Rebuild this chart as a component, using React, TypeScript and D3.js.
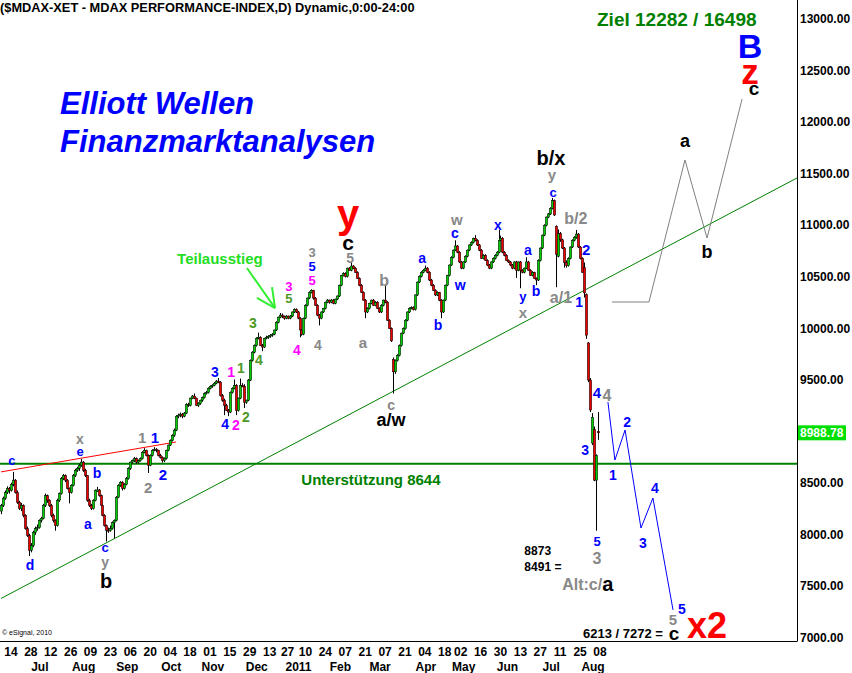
import React from 'react';
import * as d3 from 'd3';

type Bar = [number, number, number, number]; // open, high, low, close

const ohlc: Bar[] = [
  [8230,8300,8200,8285],[8285,8370,8270,8355],[8355,8430,8340,8410],[8410,8470,8395,8450],[8450,8465,8400,8430],
  [8430,8505,8420,8490],[8490,8610,8470,8530],[8530,8540,8400,8410],[8410,8430,8300,8315],[8315,8330,8240,8255],
  [8255,8310,8230,8285],[8285,8295,8170,8190],[8190,8200,8050,8060],[8060,8080,7980,7995],[7995,8010,7795,7850],
  [7850,7920,7830,7895],[7895,8040,7880,8025],[8025,8080,8000,8060],[8060,8100,8040,8070],[8070,8150,8060,8140],
  [8140,8175,8120,8160],[8160,8300,8150,8285],[8285,8400,8270,8380],[8380,8390,8310,8335],[8335,8345,8270,8285],
  [8285,8300,8170,8190],[8190,8205,8120,8140],[8140,8150,8040,8090],[8090,8350,8080,8335],[8335,8410,8320,8400],
  [8400,8560,8390,8545],[8545,8590,8530,8575],[8575,8585,8510,8530],[8530,8540,8440,8450],[8450,8460,8305,8410],
  [8410,8490,8400,8480],[8480,8590,8470,8575],[8575,8640,8560,8625],[8625,8660,8610,8645],[8645,8690,8620,8675],
  [8675,8735,8660,8705],[8705,8715,8610,8625],[8625,8640,8560,8575],[8575,8580,8320,8335],[8335,8350,8270,8285],
  [8285,8300,8240,8255],[8255,8345,8245,8335],[8335,8440,8325,8430],[8420,8465,8415,8435],[8435,8445,8370,8380],
  [8380,8390,8280,8285],[8285,8295,8180,8190],[8190,8200,8080,8090],[8090,8100,7935,8045],[8045,8070,8020,8040],
  [8040,8090,8030,8060],[8060,8130,8050,8120],[8120,8150,7965,8140],[8140,8375,8130,8365],[8365,8490,8355,8480],
  [8480,8520,8465,8510],[8510,8520,8430,8450],[8450,8500,8440,8490],[8490,8560,8480,8545],[8545,8655,8535,8645],
  [8645,8710,8630,8705],[8705,8730,8690,8720],[8720,8755,8705,8740],[8740,8750,8690,8705],[8705,8730,8690,8720],
  [8720,8750,8710,8740],[8740,8810,8730,8800],[8800,8840,8790,8820],[8820,8825,8760,8770],[8770,8780,8600,8675],
  [8675,8780,8665,8770],[8770,8830,8760,8820],[8820,8850,8810,8830],[8830,8840,8800,8820],[8820,8825,8760,8770],
  [8770,8785,8740,8750],[8750,8760,8700,8720],[8720,8750,8705,8740],[8740,8825,8730,8820],[8820,8875,8810,8870],
  [8870,8925,8860,8915],[8915,8975,8905,8965],[8965,9030,8950,9015],[9015,9160,9005,9150],[9150,9175,9130,9160],
  [9160,9185,9140,9170],[9170,9180,9130,9150],[9150,9190,9140,9180],[9180,9275,9170,9265],[9265,9280,9240,9255],
  [9255,9330,9245,9325],[9325,9355,9315,9345],[9345,9370,9315,9325],[9325,9330,9250,9255],[9255,9285,9240,9275],
  [9275,9310,9260,9305],[9305,9340,9290,9330],[9330,9380,9320,9370],[9370,9395,9360,9380],[9380,9430,9370,9420],
  [9420,9450,9410,9440],[9440,9460,9425,9450],[9450,9480,9440,9470],[9470,9500,9460,9490],[9490,9520,9470,9480],
  [9480,9490,9340,9350],[9350,9365,9290,9305],[9305,9320,9160,9255],[9255,9270,9200,9205],[9205,9220,9150,9190],
  [9190,9390,9180,9380],[9380,9430,9370,9420],[9420,9505,9410,9450],[9450,9460,9160,9205],[9205,9330,9195,9325],
  [9325,9515,9315,9450],[9450,9470,9430,9440],[9440,9460,9230,9285],[9285,9310,9270,9305],[9305,9510,9295,9500],
  [9500,9700,9490,9690],[9690,9780,9680,9770],[9770,9845,9760,9835],[9835,9915,9825,9905],[9905,9960,9895,9915],
  [9915,9925,9830,9835],[9835,9850,9780,9820],[9820,9910,9810,9905],[9905,9930,9895,9915],[9915,9935,9900,9925],
  [9925,9945,9910,9935],[9935,9955,9920,9945],[9945,9990,9935,9985],[9985,10070,9975,10060],[10060,10115,10050,10110],
  [10110,10150,10100,10130],[10130,10145,10100,10115],[10115,10125,10085,10100],[10100,10130,10090,10120],[10120,10125,10090,10100],
  [10100,10130,10090,10120],[10120,10165,10110,10160],[10160,10195,10150,10185],[10185,10195,10150,10160],[10160,10170,10090,10100],
  [10100,10110,9915,9985],[9985,9995,9930,9945],[9945,10105,9935,10100],[10100,10235,10090,10225],[10225,10300,10215,10295],
  [10295,10360,10285,10350],[10350,10380,10340,10370],[10370,10375,10280,10295],[10295,10305,10220,10225],[10225,10235,10120,10130],
  [10130,10140,10030,10100],[10100,10165,10090,10160],[10160,10200,10150,10195],[10195,10260,10185,10255],[10255,10285,10245,10275],
  [10275,10280,10240,10255],[10255,10285,10245,10275],[10275,10285,10235,10245],[10245,10290,10235,10285],[10285,10320,10275,10315],
  [10315,10425,10305,10420],[10420,10520,10410,10515],[10515,10545,10505,10535],[10535,10545,10495,10505],[10505,10590,10495,10585],
  [10585,10595,10560,10565],[10565,10640,10555,10605],[10605,10615,10575,10585],[10585,10595,10540,10545],[10545,10555,10480,10485],
  [10485,10495,10410,10420],[10420,10430,10345,10350],[10350,10360,10270,10275],[10275,10285,10100,10160],[10160,10205,10150,10195],
  [10195,10250,10185,10245],[10245,10280,10235,10275],[10275,10285,10220,10225],[10225,10265,10215,10255],[10255,10265,10190,10195],
  [10195,10205,10150,10160],[10160,10235,10150,10225],[10225,10280,10215,10275],[10275,10420,10245,10255],[10255,10265,10075,10080],
  [10080,10090,9995,10000],[10000,10010,9870,9880],[9700,9720,9370,9580],[9580,9700,9560,9690],[9690,9750,9680,9740],
  [9740,9845,9730,9835],[9835,9960,9825,9955],[9955,10010,9945,10000],[10000,10090,9990,10080],[10080,10165,10070,10160],
  [10160,10205,10150,10195],[10195,10215,10185,10205],[10205,10215,10175,10185],[10185,10330,10175,10325],[10325,10455,10315,10450],
  [10450,10515,10440,10505],[10505,10555,10495,10545],[10545,10575,10535,10565],[10565,10610,10555,10585],[10585,10595,10535,10545],
  [10545,10555,10460,10470],[10470,10480,10410,10420],[10420,10430,10365,10370],[10370,10380,10315,10325],[10325,10360,10315,10350],
  [10350,10355,10265,10275],[10275,10285,10100,10160],[10160,10280,10150,10275],[10275,10425,10265,10420],[10420,10520,10410,10515],
  [10515,10620,10505,10615],[10615,10700,10605,10690],[10690,10765,10680,10760],[10760,10855,10750,10800],[10800,10810,10730,10740],
  [10740,10750,10635,10645],[10645,10655,10575,10585],[10585,10650,10575,10645],[10645,10710,10635,10700],[10700,10765,10690,10760],
  [10760,10815,10750,10810],[10810,10845,10800,10835],[10835,10880,10825,10875],[10875,10905,10845,10855],[10855,10865,10800,10810],
  [10810,10820,10750,10760],[10760,10770,10675,10680],[10680,10720,10670,10710],[10710,10720,10655,10660],[10660,10670,10605,10615],
  [10615,10625,10575,10585],[10585,10650,10575,10645],[10645,10690,10635,10680],[10680,10720,10670,10710],[10710,10750,10700,10740],
  [10740,10955,10730,10855],[10855,10900,10845,10875],[10875,10885,10730,10740],[10740,10750,10700,10710],[10710,10720,10655,10660],
  [10660,10670,10635,10645],[10645,10655,10605,10615],[10615,10625,10575,10585],[10585,10650,10575,10645],[10645,10655,10490,10565],
  [10565,10650,10555,10645],[10645,10655,10390,10565],[10565,10575,10535,10545],[10545,10590,10535,10585],[10585,10690,10575,10645],
  [10645,10655,10560,10565],[10565,10575,10510,10515],[10515,10555,10505,10545],[10545,10550,10480,10485],[10485,10495,10420,10470],
  [10470,10670,10460,10660],[10660,10785,10650,10780],[10780,10910,10770,10905],[10905,11010,10895,11000],[11000,11085,10990,11080],
  [11080,11120,11070,11110],[11110,11175,11100,11165],[11165,11265,11155,11240],[11240,11250,11090,11100],[10990,11000,10400,10720],
  [10700,10960,10690,10920],[10920,10935,10840,10860],[10860,10870,10770,10780],[10780,10790,10590,10640],[10640,10660,10590,10610],
  [10610,10690,10600,10680],[10680,10795,10670,10790],[10790,10865,10780,10855],[10855,10895,10845,10885],[10885,10955,10870,10915],
  [10915,10925,10780,10790],[10790,10800,10670,10680],[10680,10690,10540,10545],[10590,10640,10300,10345],[10330,10340,9900,9935],
  [9860,9870,9480,9500],[9500,9520,9190,9210],[8890,9180,8870,9140],[9020,9050,8520,8530],[8530,8780,8040,8770],
  [9000,9190,8920,8989],
];

const startDate = '2010-06-07';
const holidays = ['2010-12-24', '2010-12-31', '2011-04-22', '2011-04-25'];
const priceTicks = [7000, 7500, 8000, 8500, 9000, 9500, 10000, 10500, 11000, 11500, 12000, 12500, 13000];
const tickDates = [
  '2010-06-14','2010-06-28','2010-07-12','2010-07-26','2010-08-09','2010-08-23','2010-09-06','2010-09-20',
  '2010-10-04','2010-10-18','2010-11-01','2010-11-15','2010-11-29','2010-12-13','2010-12-27','2011-01-10',
  '2011-01-24','2011-02-07','2011-02-21','2011-03-07','2011-03-21','2011-04-04','2011-04-18','2011-05-02',
  '2011-05-16','2011-05-30','2011-06-13','2011-06-27','2011-07-11','2011-07-25','2011-08-08',
];
const monthLabels: [string, string][] = [
  ['Jul','2010-07-01'],['Aug','2010-08-02'],['Sep','2010-09-01'],['Oct','2010-10-01'],['Nov','2010-11-01'],
  ['Dec','2010-12-01'],['2011','2011-01-03'],['Feb','2011-02-01'],['Mar','2011-03-01'],['Apr','2011-04-01'],
  ['May','2011-05-02'],['Jun','2011-06-01'],['Jul','2011-07-01'],['Aug','2011-08-01'],
];
const lastPrice = 8988.78;
const supportLevel = 8690;
const trendGreen: [number, number][] = [[0, 7383], [400, 11459]];
const trendRed: [number, number][] = [[0, 8610], [88, 8900]];
const forecastBlue: [number, number][] = [[305, 9287], [308.5, 8725], [313.6, 9016], [321.6, 8066], [327.6, 8357], [337.7, 7272]];
const forecastGrey: [number, number][] = [[307, 10257], [325.6, 10257], [343.7, 11633], [354.8, 10877], [372.4, 12224]];
const arrowTeil: [number, number][][] = [
  [[123.6, 10586], [137.7, 10198]],
  [[128.6, 10296], [137.7, 10198]],
  [[136.2, 10402], [137.7, 10198]],
];

const BL = '#0000ff', GR = '#888888', PK = '#ff00ff', OL = '#4d9926', BK = '#000000', RD = '#ff0000';
// text, index, price, colour, size
const waveLabels: [string, number, number, string, number][] = [
  ['c', 5.5, 8716, BL, 13], ['x', 39.7, 8925, GR, 14], ['e', 39.7, 8803, BL, 13], ['b', 48.2, 8599, BL, 14],
  ['a', 43.7, 8105, BL, 14], ['d', 14.6, 7707, BL, 14], ['c', 52.3, 7878, BL, 13], ['y', 52.3, 7735, GR, 14],
  ['b', 52.8, 7552, BK, 20], ['1', 70.9, 8948, GR, 15], ['1', 77.4, 8948, BL, 15], ['2', 73.9, 8463, GR, 15],
  ['2', 81.4, 8580, BL, 15], ['3', 107.5, 9578, BL, 14], ['1', 115.6, 9578, PK, 14], ['1', 120.6, 9617, OL, 14],
  ['4', 112.6, 9074, BL, 14], ['2', 118.1, 9064, PK, 14], ['2', 123.1, 9142, OL, 14], ['3', 126.6, 10053, OL, 14],
  ['4', 129.6, 9695, OL, 14], ['5', 144.7, 10290, OL, 13], ['3', 144.7, 10407, PK, 13], ['4', 148.7, 9792, PK, 14],
  ['3', 156.3, 10737, GR, 13], ['5', 156.3, 10600, BL, 13], ['5', 156.3, 10465, PK, 13], ['4', 159.3, 9840, GR, 14],
  ['y', 174.4, 11110, RD, 40], ['c', 174.4, 10835, BK, 21], ['5', 175.4, 10685, GR, 14], ['a', 181.9, 9869, GR, 15],
  ['b', 192.5, 10470, GR, 16], ['c', 196.0, 9262, GR, 14], ['a/w', 196.0, 9110, BK, 18], ['a', 211.6, 10683, BL, 14],
  ['b', 219.6, 10034, BL, 14], ['w', 229.1, 11060, GR, 15], ['c', 228.1, 10930, BL, 14], ['w', 230.7, 10422, BL, 14],
  ['x', 249.7, 11003, BL, 14], ['a', 264.8, 10761, BL, 14], ['y', 262.3, 10310, BL, 13], ['x', 262.3, 10155, GR, 15],
  ['b', 268.8, 10363, BL, 14], ['c', 277.4, 11318, BL, 13], ['y', 276.9, 11490, GR, 15], ['b/x', 276.4, 11655, BK, 20],
  ['b/2', 288.9, 11071, GR, 16], ['a/1', 281.4, 10305, GR, 16], ['1', 290.5, 10257, BL, 14], ['2', 294.0, 10761, BL, 15],
  ['4', 299.5, 9375, BL, 15], ['4', 304.5, 9346, GR, 16], ['3', 293.5, 8822, BL, 14], ['5', 299.5, 7935, BL, 13],
  ['3', 299.5, 7768, GR, 16], ['2', 314.6, 9094, BL, 14], ['1', 307.5, 8580, BL, 14], ['4', 328.6, 8454, BL, 14],
  ['3', 322.6, 7921, BL, 14], ['5', 342.2, 7281, BL, 14], ['5', 337.7, 7178, GR, 15], ['c', 338.2, 7045, BK, 19],
  ['a', 343.7, 11817, BK, 18], ['b', 354.8, 10741, BK, 18], ['c', 378.4, 12325, BK, 19], ['z', 376.4, 12490, RD, 35],
  ['B', 376.4, 12735, BL, 34], ['x2', 354.8, 7126, RD, 36],
];
// left-anchored notes: text, index, price, colour, size
const notes: [string, number, number, string, number][] = [
  ['8873', 263, 7846, BK, 12], ['8491 =', 263, 7688, BK, 12], ['6213 / 7272 =', 292.5, 7048, BK, 13],
];

const FONT = "'Liberation Sans', Arial, Helvetica, sans-serif";

function tradingDays(n: number): Date[] {
  const out: Date[] = [];
  const d = new Date(startDate + 'T12:00:00Z');
  const hol = new Set(holidays);
  while (out.length < n) {
    const wd = d.getUTCDay();
    const iso = d.toISOString().slice(0, 10);
    if (wd !== 0 && wd !== 6 && !hol.has(iso)) out.push(new Date(d));
    d.setUTCDate(d.getUTCDate() + 1);
  }
  return out;
}

export default function App() {
  const W = 852, H = 673;
  const plotRight = 797;
  const axisY = 641;
  const x = d3.scaleLinear().domain([0, 400]).range([1, plotRight]);
  const y = d3.scaleLinear().domain([7000, 13000]).range([638, 19]);
  const days = tradingDays(420);
  const idx = new Map(days.map((d, i) => [d.toISOString().slice(0, 10), i]));
  const line = d3.line<[number, number]>().x(d => x(d[0])).y(d => y(d[1]));

  return (
    <svg width={W} height={H} style={{ position: 'absolute', left: 0, top: 0, background: '#fff' }} fontFamily={FONT}>
      <rect x={0} y={0} width={W} height={H} fill="#fff" />
      <defs>
        <clipPath id="plot"><rect x={0} y={0} width={plotRight} height={axisY} /></clipPath>
      </defs>
      <g clipPath="url(#plot)">
        <line x1={0} x2={plotRight} y1={y(supportLevel)} y2={y(supportLevel)} stroke="#008000" strokeWidth={2} />
        <path d={line(trendGreen) || ''} stroke="#008000" strokeWidth={1} fill="none" />
        <path d={line(trendRed) || ''} stroke="#ff0000" strokeWidth={1} fill="none" />
        {ohlc.map((b, i) => {
          const [o, h, l, c] = b;
          const cx = Math.round(x(i)) + 0.5;
          const top = y(Math.max(o, c));
          const bh = Math.max(1, Math.abs(y(o) - y(c)));
          return (
            <g key={i}>
              <line x1={cx} x2={cx} y1={y(h)} y2={y(l)} stroke="#000" strokeWidth={1} />
              <rect x={cx - 1.2} y={top} width={2.4} height={bh} fill={c >= o ? '#00cc00' : '#ee0000'} stroke="#000" strokeWidth={0.5} />
            </g>
          );
        })}
        <path d={line(forecastBlue) || ''} stroke="#0000ff" strokeWidth={1} fill="none" />
        <path d={line(forecastGrey) || ''} stroke="#808080" strokeWidth={1} fill="none" />
        {arrowTeil.map((seg, k) => (
          <path key={k} d={line(seg) || ''} stroke="#33ee33" strokeWidth={2} fill="none" />
        ))}
      </g>

      <line x1={plotRight + 0.5} x2={plotRight + 0.5} y1={0} y2={axisY} stroke="#000" />
      <line x1={0} x2={plotRight + 0.5} y1={axisY + 0.5} y2={axisY + 0.5} stroke="#000" />
      {priceTicks.map(v => (
        <text key={v} x={800} y={y(v)} dominantBaseline="central" fontSize={12} fontWeight="bold">{v.toFixed(2)}</text>
      ))}
      <rect x={798} y={y(lastPrice) - 7.5} width={48} height={15} fill="#00e000" />
      <text x={800} y={y(lastPrice)} dominantBaseline="central" fontSize={12} fontWeight="bold" fill="#fff">{lastPrice.toFixed(2)}</text>

      {tickDates.map(t => {
        const i = idx.get(t)!;
        return <text key={t} x={x(i)} y={656} textAnchor="middle" fontSize={12} fontWeight="bold">{t.slice(8, 10)}</text>;
      })}
      {monthLabels.map(([lab, t]) => {
        const i = idx.get(t)!;
        return <text key={lab + t} x={x(i) + 3} y={671} textAnchor="middle" fontSize={12} fontWeight="bold">{lab}</text>;
      })}

      <text x={0} y={12} fontSize={12.8} fontWeight="bold">($MDAX-XET - MDAX PERFORMANCE-INDEX,D) Dynamic,0:00-24:00</text>
      <text x={60} y={114} fontSize={31} fontWeight="bold" fontStyle="italic" fill="#0000ff">Elliott Wellen</text>
      <text x={60} y={152} fontSize={31} fontWeight="bold" fontStyle="italic" fill="#0000ff">Finanzmarktanalysen</text>
      <text x={597} y={26} fontSize={19} fontWeight="bold" fill="#008000">Ziel 12282 / 16498</text>
      <text x={x(110)} y={y(10683)} textAnchor="middle" dominantBaseline="central" fontSize={15} fontWeight="bold" fill="#22dd22">Teilausstieg</text>
      <text x={x(185.9)} y={y(8541)} textAnchor="middle" dominantBaseline="central" fontSize={15} fontWeight="bold" fill="#008000">Unterstützung 8644</text>
      <text x={x(282)} y={y(7523)} dominantBaseline="central" fontWeight="bold">
        <tspan fill="#888888" fontSize={16}>Alt:c/</tspan><tspan fill="#000" fontSize={20}>a</tspan>
      </text>
      {waveLabels.map(([t, i, v, c, s], k) => (
        <text key={k} x={x(i)} y={y(v)} textAnchor="middle" dominantBaseline="central" fontSize={s} fontWeight="bold" fill={c}>{t}</text>
      ))}
      {notes.map(([t, i, v, c, s], k) => (
        <text key={k} x={x(i)} y={y(v)} dominantBaseline="central" fontSize={s} fontWeight="bold" fill={c}>{t}</text>
      ))}
      <text x={2} y={635} fontSize={7} fill="#000">© eSignal, 2010</text>
    </svg>
  );
}
